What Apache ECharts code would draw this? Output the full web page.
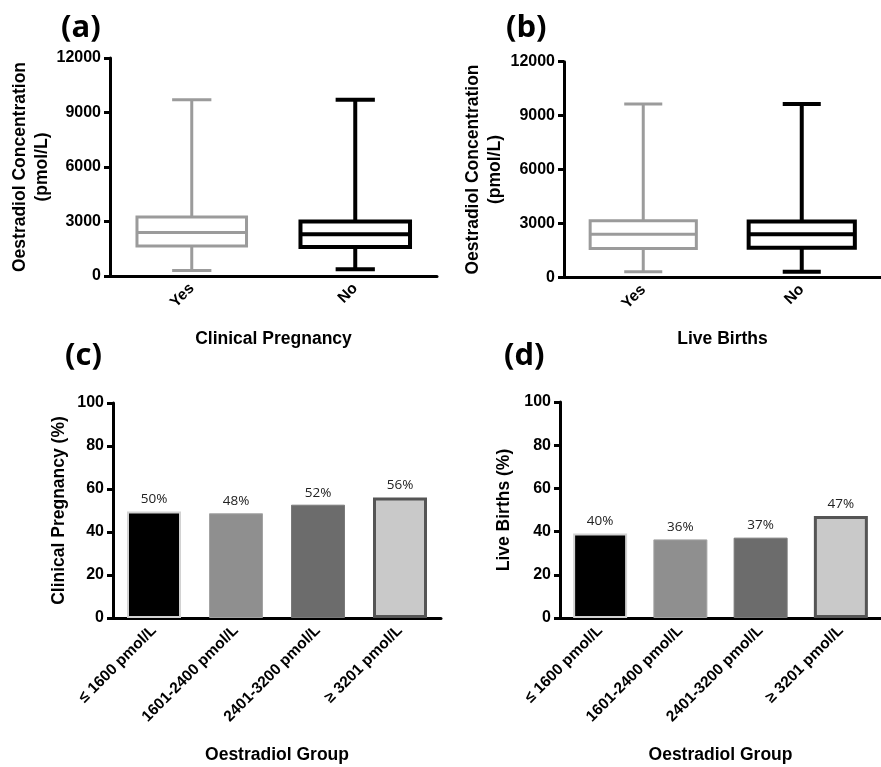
<!DOCTYPE html>
<html>
<head>
<meta charset="utf-8">
<script src="https://cdn.jsdelivr.net/npm/echarts@6/dist/echarts.min.js"></script>
<style>html,body{margin:0;padding:0;background:#fff;}#c{width:881px;height:767px;}</style>
</head>
<body>
<div id="c"></div>
<script>
// ---- data ----
const boxCategories = ['Yes', 'No'];
// [min, Q1, median, Q3, max]
const pregnancyBox = [[300, 1650, 2400, 3250, 9700], [370, 1600, 2300, 3000, 9700]];
const liveBirthBox = [[310, 1600, 2400, 3150, 9650], [310, 1650, 2400, 3100, 9650]];
const concTicks = [0, 3000, 6000, 9000, 12000];

const groupCategories = ['≤ 1600 pmol/L', '1601-2400 pmol/L', '2401-3200 pmol/L', '≥ 3201 pmol/L'];
const pregnancyPct = [49.5, 48.7, 52.7, 56.1];
const pregnancyLabels = ['50%', '48%', '52%', '56%'];
const liveBirthPct = [39.1, 36.4, 37.2, 47.2];
const liveBirthLabels = ['40%', '36%', '37%', '47%'];
const pctTicks = [0, 20, 40, 60, 80, 100];

// ---- styles ----
const boxColors = ['#9b9b9b', '#000000'];
const boxLineWidths = [3, 4];
const barFills = ['#000000', '#8f8f8f', '#6c6c6c', '#c9c9c9'];
const barBorders = ['#d2d2d2', '#a3a3a3', '#7a7a7a', '#555555'];
const barBorderWidths = [2, 1, 1, 3];
const FONT = 'Liberation Sans, Arial, sans-serif';

function renderBox(params, api) {
  const idx = api.value(0);
  const pMin = api.coord([idx, api.value(1)]);
  const pQ1 = api.coord([idx, api.value(2)]);
  const pMed = api.coord([idx, api.value(3)]);
  const pQ3 = api.coord([idx, api.value(4)]);
  const pMax = api.coord([idx, api.value(5)]);
  const band = api.size([1, 0])[0];
  const hw = band * 0.335, cw = band * 0.12;
  const x = pMed[0];
  const style = { stroke: boxColors[idx], lineWidth: boxLineWidths[idx], fill: null };
  return {
    type: 'group',
    children: [
      { type: 'line', shape: { x1: x, y1: pMax[1], x2: x, y2: pQ3[1] }, style },
      { type: 'line', shape: { x1: x, y1: pQ1[1], x2: x, y2: pMin[1] }, style },
      { type: 'line', shape: { x1: x - cw, y1: pMax[1], x2: x + cw, y2: pMax[1] }, style },
      { type: 'line', shape: { x1: x - cw, y1: pMin[1], x2: x + cw, y2: pMin[1] }, style },
      { type: 'rect', shape: { x: x - hw, y: pQ3[1], width: 2 * hw, height: pQ1[1] - pQ3[1] },
        style: { stroke: boxColors[idx], lineWidth: boxLineWidths[idx], fill: '#ffffff' } },
      { type: 'line', shape: { x1: x - hw, y1: pMed[1], x2: x + hw, y2: pMed[1] }, style }
    ]
  };
}

const axisLine = { lineStyle: { color: '#000', width: 3 } };
const axisTick = { length: 6, lineStyle: { color: '#000', width: 3 } };
const axisLabelY = { color: '#000', fontWeight: 'bold', fontSize: 16, fontFamily: FONT, margin: 9, formatter: v => String(v) };
const axisLabelX = { color: '#000', fontWeight: 'bold', fontSize: 15.5, fontFamily: FONT, rotate: 45, margin: 10, interval: 0 };
const nameStyle = { color: '#000', fontWeight: 'bold', fontSize: 17.5, fontFamily: FONT, lineHeight: 22 };

function yVal(ticks, gridIndex, name, gap) {
  return {
    type: 'value', gridIndex, min: ticks[0], max: ticks[ticks.length - 1],
    interval: ticks[1] - ticks[0], splitLine: { show: false },
    axisLine: Object.assign({ show: true }, axisLine), axisTick: Object.assign({ show: true }, axisTick),
    axisLabel: axisLabelY, name, nameLocation: 'middle', nameGap: gap, nameMoveOverlap: false,
    nameTextStyle: nameStyle
  };
}
function xCat(cats, gridIndex, name, gap) {
  return {
    type: 'category', gridIndex, data: cats, boundaryGap: true,
    axisLine, axisTick: Object.assign({ alignWithLabel: true }, axisTick),
    axisLabel: axisLabelX, name, nameLocation: 'middle', nameGap: gap, nameMoveOverlap: false,
    nameTextStyle: nameStyle
  };
}

function barData(vals) {
  return vals.map((v, i) => ({
    value: v,
    itemStyle: { color: barFills[i], borderColor: barBorders[i], borderWidth: barBorderWidths[i] }
  }));
}
function barLabel(labels) {
  return {
    show: true, position: 'top', distance: 5, fontSize: 13.5, color: '#222',
    fontFamily: 'Open Sans, sans-serif', formatter: p => labels[p.dataIndex]
  };
}

const letterFont = 'bold 31px "Open Sans", sans-serif';
const chart = echarts.init(document.getElementById('c'), null, { renderer: 'canvas' });
chart.setOption({
  animation: false,
  backgroundColor: '#fff',
  grid: [
    { left: 110, top: 58, width: 327, height: 218 },
    { left: 564, top: 61.7, width: 326.6, height: 215.6 },
    { left: 113, top: 403, width: 328, height: 217 },
    { left: 560, top: 402, width: 327, height: 218 }
  ],
  xAxis: [
    xCat(boxCategories, 0, 'Clinical Pregnancy', 52),
    xCat(boxCategories, 1, 'Live Births', 51),
    xCat(groupCategories, 2, 'Oestradiol Group', 126),
    xCat(groupCategories, 3, 'Oestradiol Group', 126)
  ],
  yAxis: [
    yVal(concTicks, 0, 'Oestradiol Concentration\n(pmol/L)', 57),
    yVal(concTicks, 1, 'Oestradiol Concentration\n(pmol/L)', 58),
    yVal(pctTicks, 2, 'Clinical Pregnancy (%)', 43),
    yVal(pctTicks, 3, 'Live Births (%)', 45)
  ],
  graphic: [
    { type: 'text', left: 61, top: 13, style: { text: '(a)', font: letterFont, fill: '#000' } },
    { type: 'text', left: 506, top: 13, style: { text: '(b)', font: letterFont, fill: '#000' } },
    { type: 'text', left: 65, top: 341, style: { text: '(c)', font: letterFont, fill: '#000' } },
    { type: 'text', left: 504, top: 341, style: { text: '(d)', font: letterFont, fill: '#000' } }
  ],
  series: [
    { type: 'custom', xAxisIndex: 0, yAxisIndex: 0, renderItem: renderBox,
      data: pregnancyBox.map((b, i) => [i].concat(b)), encode: { x: 0, y: [1, 2, 3, 4, 5] } },
    { type: 'custom', xAxisIndex: 1, yAxisIndex: 1, renderItem: renderBox,
      data: liveBirthBox.map((b, i) => [i].concat(b)), encode: { x: 0, y: [1, 2, 3, 4, 5] } },
    { type: 'bar', xAxisIndex: 2, yAxisIndex: 2, barWidth: 54, data: barData(pregnancyPct), label: barLabel(pregnancyLabels) },
    { type: 'bar', xAxisIndex: 3, yAxisIndex: 3, barWidth: 54, data: barData(liveBirthPct), label: barLabel(liveBirthLabels) }
  ]
});
</script>
</body>
</html>
